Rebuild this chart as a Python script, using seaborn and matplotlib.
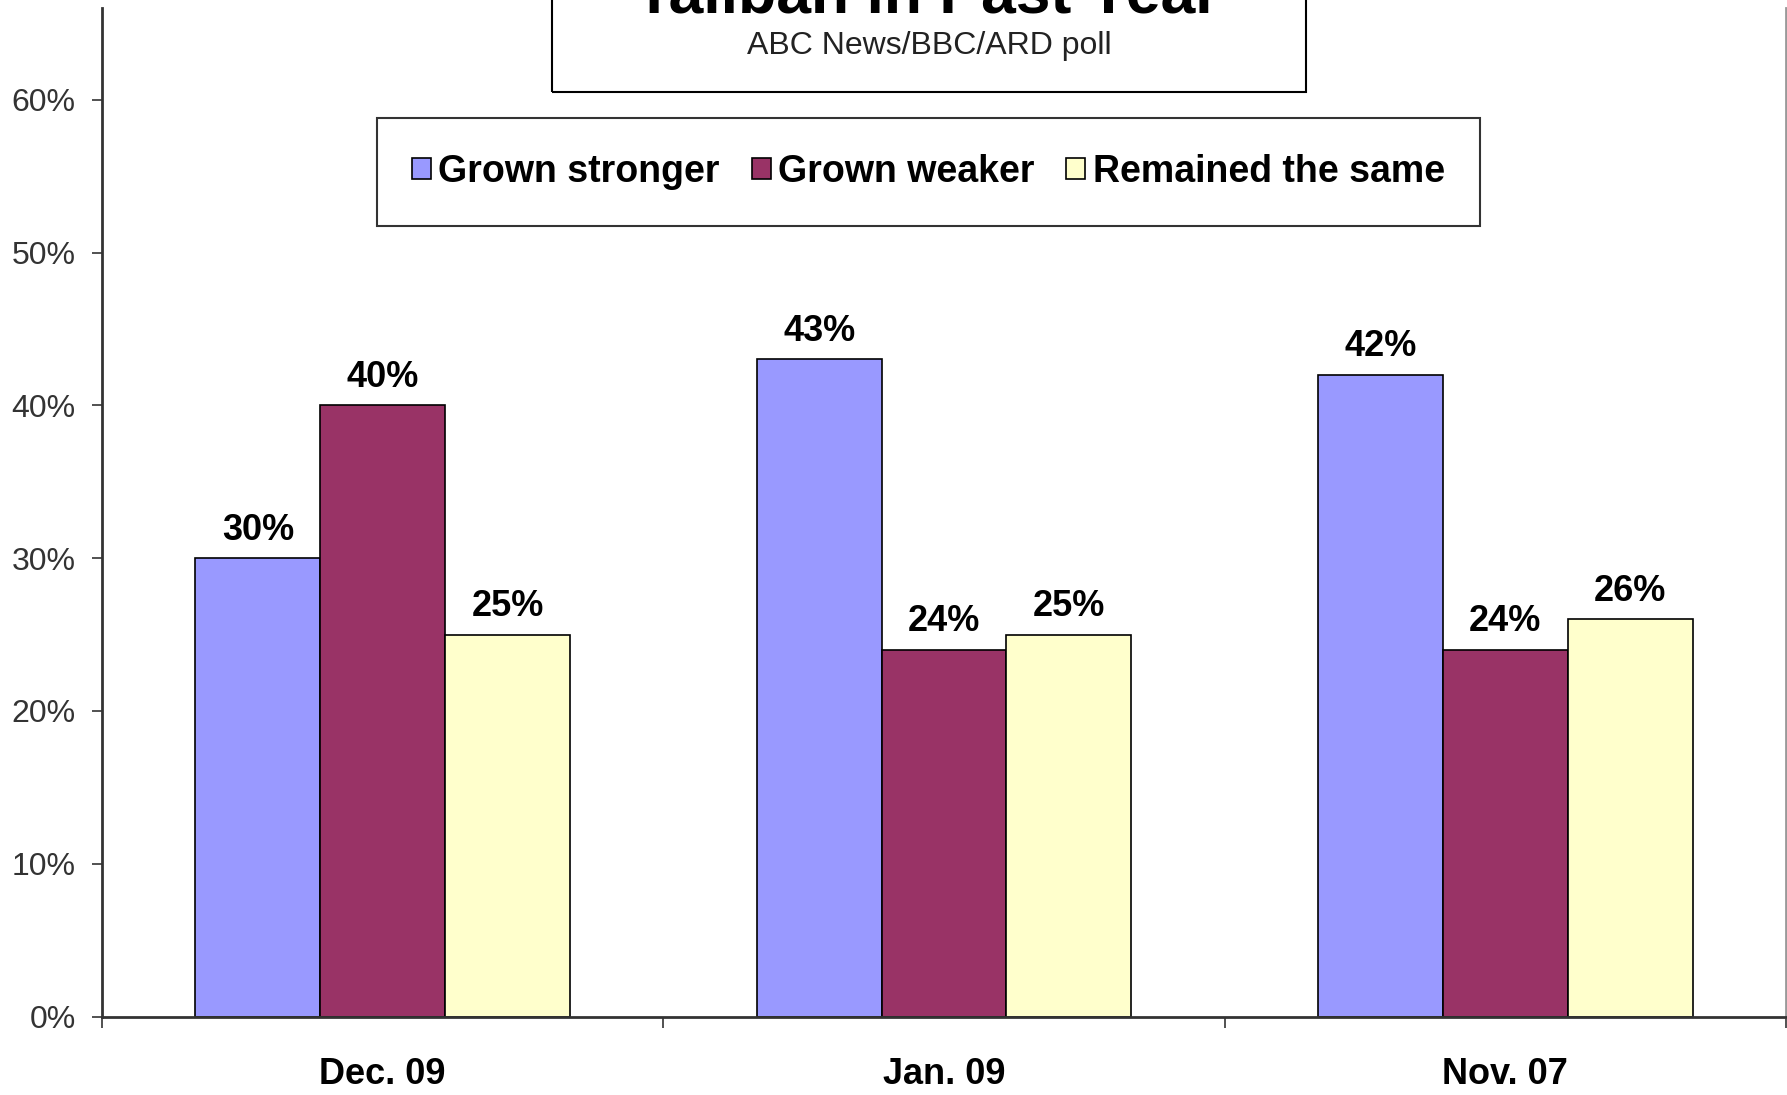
import pandas as pd
import matplotlib
matplotlib.use('Agg')
import matplotlib.pyplot as plt
import matplotlib.patches as mpatches
import seaborn as sns

# data
periods = ['Dec. 09', 'Jan. 09', 'Nov. 07']
answers = ['Grown stronger', 'Grown weaker', 'Remained the same']
grown_stronger = [30, 43, 42]
grown_weaker = [40, 24, 24]
remained_same = [25, 25, 26]
colors = ['#9999FF', '#993366', '#FFFFCC']
yticks = [0, 10, 20, 30, 40, 50, 60]

title = 'Taliban in Past Year'
subtitle = 'ABC News/BBC/ARD poll'


def main():
    df = pd.DataFrame({
        'Period': periods * 3,
        'Answer': [answers[0]] * 3 + [answers[1]] * 3 + [answers[2]] * 3,
        'Value': grown_stronger + grown_weaker + remained_same,
    })

    sns.set_theme(style='white')
    plt.rcParams['font.family'] = ['Liberation Sans', 'DejaVu Sans']
    plt.rcParams['text.color'] = 'black'

    fig = plt.figure(figsize=(17.87, 10.95), dpi=100)
    ax = fig.add_axes([102 / 1787, 1 - 1016.6 / 1095, 1684 / 1787, (1016.6 - 8) / 1095])

    sns.barplot(data=df, x='Period', y='Value', hue='Answer', order=periods,
                hue_order=answers, palette=colors, width=0.667, gap=0,
                edgecolor='black', linewidth=1.2, saturation=1, ax=ax)

    for cont in ax.containers:
        ax.bar_label(cont, labels=[f'{v:.0f}%' for v in cont.datavalues],
                     padding=7.5, fontsize=26, fontweight='bold', color='black')

    ax.set_xlim(-0.5, 2.5)
    ax.set_ylim(0, 66)
    ax.set_yticks(yticks)
    ax.set_yticklabels([f'{t}%' for t in yticks], fontsize=23, color='#333333')
    ax.tick_params(axis='y', left=True, length=7, width=1.2, pad=12, color='#333333')
    ax.set_xticks([0, 1, 2])
    ax.set_xticklabels(periods, fontsize=26, fontweight='bold', color='black')
    ax.set_xticks([-0.5, 0.5, 1.5, 2.5], minor=True)
    ax.tick_params(axis='x', which='major', length=0, pad=29)
    ax.tick_params(axis='x', which='minor', bottom=True, length=8, width=1.2, color='#333333')
    ax.set_xlabel('')
    ax.set_ylabel('')

    for side in ['left', 'bottom']:
        ax.spines[side].set_color('#333333')
        ax.spines[side].set_linewidth(2)
    ax.spines['top'].set_visible(False)
    ax.spines['right'].set_color('#999999')
    ax.spines['right'].set_linewidth(2)

    handles, labels = ax.get_legend_handles_labels()
    ax.legend_.remove()
    leg = fig.legend(handles, labels, loc='center', bbox_to_anchor=(0.5196, 0.843),
                     ncol=3, frameon=True, fancybox=False, edgecolor='black',
                     prop={'weight': 'bold', 'size': 27}, handlelength=0.5,
                     handleheight=0.5, handletextpad=0.2, columnspacing=0.85,
                     borderpad=0.95, borderaxespad=0, labelcolor='black')
    leg.get_frame().set_linewidth(1.5)

    # title box, mostly cropped at the top in the original
    box = mpatches.Rectangle((552 / 1787, 1 - 92 / 1095), (1306 - 552) / 1787, 0.2,
                             transform=fig.transFigure, fill=False,
                             edgecolor='black', linewidth=1.5)
    fig.add_artist(box)
    fig.text(0.519, 0.989, title, ha='center', va='baseline', fontsize=45,
             fontweight='bold')
    fig.text(0.52, 0.9576, subtitle, ha='center', va='center', fontsize=23,
             color='#222222')

    fig.savefig('out.png', dpi=100, facecolor='white')
    plt.close(fig)


if __name__ == '__main__':
    main()
